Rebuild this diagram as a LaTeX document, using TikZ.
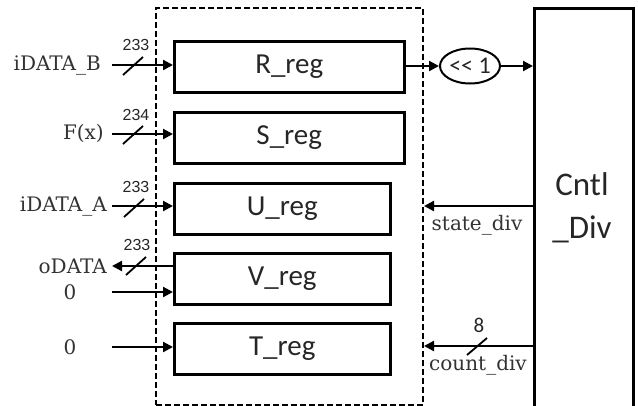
\documentclass[tikz,border=0pt]{standalone}
\usepackage{fontspec}
\setmainfont{DejaVu Serif}
\newfontfamily\regfont{Carlito}
\newfontfamily\busfont{Liberation Sans}
\usetikzlibrary{arrows.meta,shapes.geometric}

\begin{document}
\begin{tikzpicture}[x=1pt,y=-1pt,
  txt/.style={text=black!85},
  reg/.style={draw, line width=2.5pt, minimum height=51pt, inner sep=0pt,
    anchor=north west, font=\regfont\fontsize{29}{29}\selectfont, txt},
  sig/.style={font=\fontsize{20}{20}\selectfont, text=black!80, inner sep=0pt},
  bus/.style={font=\busfont\fontsize{16}{16}\selectfont, txt, inner sep=0pt},
  arr/.style={line width=2.2pt, -{Triangle[length=10pt,width=10pt]}},
  buscut/.style={line width=1.8pt},
  group/.style={draw, line width=2pt, dash pattern=on 6pt off 3pt,
    anchor=north west, inner sep=0pt}]

\useasboundingbox (0,0) rectangle (638,405);

% register group and control unit
\node[group, minimum width=267pt, minimum height=397pt] (grp) at (155,7) {};
\node[draw, line width=2.5pt, anchor=north west, minimum width=99pt,
  minimum height=420pt, inner sep=0pt] (cntl) at (533,7) {};
\node[txt, align=center, font=\regfont\fontsize{33}{43}\selectfont] (cntltxt)
  at (582,208) {Cntl\\\_Div};

% registers
\node[reg, minimum width=230pt] (R) at (173,40)  {R\_reg};
\node[reg, minimum width=230pt] (S) at (173,111) {S\_reg};
\node[reg, minimum width=216pt] (U) at (173,182) {U\_reg};
\node[reg, minimum width=216pt] (V) at (173,252) {V\_reg};
\node[reg, minimum width=216pt] (T) at (173,322) {T\_reg};

% input / output signals
\node[sig, anchor=east] (iB) at (101,65)  {iDATA\_B};
\node[sig, anchor=east] (Fx) at (104,133) {F(x)};
\node[sig, anchor=east] (iA) at (107,206) {iDATA\_A};
\node[sig, anchor=east] (oD) at (107,266) {oDATA};
\node[sig] (z1) at (70,292) {0};
\node[sig] (z2) at (70,347) {0};

\coordinate (iBe) at (112,65);
\coordinate (Fxe) at (112,134);
\coordinate (iAe) at (112,206);
\coordinate (oDe) at (112,266);
\coordinate (z1e) at (112,292);
\coordinate (z2e) at (112,347);

\draw[arr] (iBe) -- (iBe -| R.west);
\draw[arr] (Fxe) -- (Fxe -| S.west);
\draw[arr] (iAe) -- (iAe -| U.west);
\draw[arr] (oDe -| V.west) -- (oDe);
\draw[arr] (z1e) -- (z1e -| V.west);
\draw[arr] (z2e) -- (z2e -| T.west);

% bus width marks
\foreach \p/\n in {133/66, 133/135, 134/208, 136/266}{
  \draw[buscut] ([shift={(-10,9)}]\p,\n) -- ([shift={(10,-9)}]\p,\n);
}
\node[bus] (wB) at (136,45)  {233};
\node[bus] (wF) at (136,115) {234};
\node[bus] (wA) at (136,187) {233};
\node[bus] (wO) at (137,245) {233};

% shifter between R_reg and the control unit
\node[draw, ellipse, line width=2pt, minimum width=60pt, minimum height=35pt,
  inner sep=0pt, txt, font=\regfont\fontsize{24}{24}\selectfont] (shl)
  at (470,66) {<{}< 1};
\draw[arr] (R.east |- shl.west) -- (shl.west);
\draw[arr] (shl.east) -- (shl.east -| cntl.west);

% control signals back to the registers
\coordinate (sdc) at (533,206);
\coordinate (cdc) at (533,346);
\draw[arr] (sdc) -- (sdc -| grp.east);
\draw[arr] (cdc) -- (cdc -| grp.east);
\draw[buscut] (467,355) -- (487,338);
\node[txt, font=\regfont\fontsize{21}{21}\selectfont, inner sep=0pt] (w8) at (479,325) {8};
\node[sig] (sdl) at (477,225) {state\_div};
\node[sig] (cdl) at (478,365) {count\_div};

\end{tikzpicture}
\end{document}
